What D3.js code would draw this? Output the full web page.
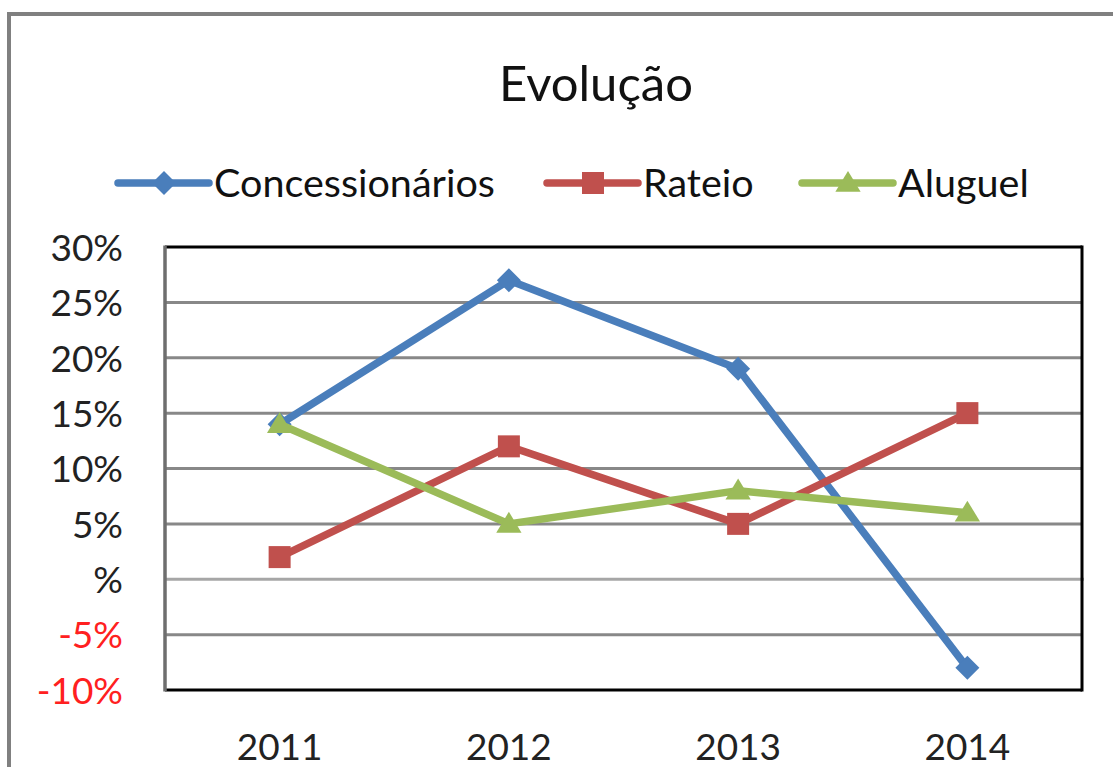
<!DOCTYPE html>
<html><head><meta charset="utf-8">
<script src="https://cdn.jsdelivr.net/npm/d3@7"></script>
<style>body{margin:0;background:#fff}svg{display:block}</style>
</head><body>
<svg id="c" width="1113" height="767"></svg>
<script>
const categories = ["2011","2012","2013","2014"];
const seriesNames = ["Concessionários","Rateio","Aluguel"];
const concessionarios = [14, 27, 19, -8];
const rateio = [2, 12, 5, 15];
const aluguel = [14, 5, 8, 6];
const yTicks = [-10,-5,0,5,10,15,20,25,30];
const colors = ["#4a7ebb","#c0504d","#9bbb59"];
const markers = ["diamond","square","triangle"];
const seriesValues = [concessionarios, rateio, aluguel];

const svg = d3.select("#c");
const font = "Lato, 'Open Sans', sans-serif";
const L = 165, R = 1082, T = 247, B = 690;

// outer frame
svg.append("rect").attr("x",9).attr("y",14).attr("width",1200).attr("height",900)
  .attr("fill","none").attr("stroke","#808080").attr("stroke-width",4);

const x = d3.scaleBand().domain(categories).range([L,R]);
const y = d3.scaleLinear().domain([-10,30]).range([B,T]);

// gridlines
svg.append("g").selectAll("line").data(yTicks.filter(d=>d>-10&&d<30)).join("line")
  .attr("x1",L).attr("x2",d=>d===0?R+2:R).attr("y1",d=>y(d)).attr("y2",d=>y(d))
  .attr("stroke",d=>d===0?"#a6a6a6":"#888").attr("stroke-width",3);

// plot border
svg.append("line").attr("x1",L).attr("x2",R).attr("y1",T).attr("y2",T).attr("stroke","#000").attr("stroke-width",3);
svg.append("line").attr("x1",R).attr("x2",R).attr("y1",T-1.5).attr("y2",B+1.5).attr("stroke","#000").attr("stroke-width",3);
svg.append("line").attr("x1",L).attr("x2",R).attr("y1",B).attr("y2",B).attr("stroke","#000").attr("stroke-width",3);
svg.append("line").attr("x1",L).attr("x2",L).attr("y1",T-1.5).attr("y2",B+1.5).attr("stroke","#6e6e6e").attr("stroke-width",3.5);

// y axis labels
const yAxis = d3.axisLeft(y).tickValues(yTicks).tickSize(0).tickPadding(0)
  .tickFormat(d => d===0 ? "%" : d+"%");
const gy = svg.append("g").attr("transform",`translate(123,0)`).call(yAxis);
gy.select(".domain").remove();
gy.selectAll("text").attr("font-family",font).attr("font-size",37)
  .attr("fill",d=>d<0?"#ff2020":"#222").attr("dy","0.36em");

// x axis labels
const xAxis = d3.axisBottom(x).tickSize(0).tickPadding(0);
const gx = svg.append("g").attr("transform",`translate(0,${B})`).call(xAxis);
gx.select(".domain").remove();
gx.selectAll("text").attr("font-family",font).attr("font-size",37).attr("fill","#222")
  .attr("dy",0).attr("y",70);

function marker(g, type, color, cx, cy, s){
  if(type==="diamond"){
    g.append("path").attr("d",`M${cx},${cy-s}L${cx+s},${cy}L${cx},${cy+s}L${cx-s},${cy}Z`).attr("fill",color);
  } else if(type==="square"){
    g.append("rect").attr("x",cx-s).attr("y",cy-s).attr("width",2*s).attr("height",2*s).attr("fill",color);
  } else {
    g.append("path").attr("d",`M${cx},${cy-s*1.1}L${cx+s*1.15},${cy+s*0.8}L${cx-s*1.15},${cy+s*0.8}Z`).attr("fill",color);
  }
}

const line = d3.line().x((d,i)=>x(categories[i])+x.bandwidth()/2).y(d=>y(d));
seriesValues.forEach((vals,si)=>{
  const g = svg.append("g");
  g.append("path").attr("d",line(vals)).attr("fill","none").attr("stroke",colors[si])
    .attr("stroke-width",7.5).attr("stroke-linejoin","round").attr("stroke-linecap","round");
  vals.forEach((v,i)=>marker(g,markers[si],colors[si],x(categories[i])+x.bandwidth()/2,y(v),markers[si]==="diamond"?12:11));
});

// title
svg.append("text").attr("x",596).attr("y",101).attr("text-anchor","middle")
  .attr("font-family",font).attr("font-size",49).attr("fill","#111").text("Evolução");

// legend
const legendX = [118, 547, 802];
const legY = 183;
seriesNames.forEach((n,i)=>{
  const g = svg.append("g");
  g.append("line").attr("x1",legendX[i]).attr("x2",legendX[i]+91).attr("y1",legY).attr("y2",legY)
    .attr("stroke",colors[i]).attr("stroke-width",7.5).attr("stroke-linecap","round");
  marker(g,markers[i],colors[i],legendX[i]+46,legY,markers[i]==="diamond"?12:11);
  g.append("text").attr("x",legendX[i]+96).attr("y",legY).attr("dy","0.36em")
    .attr("font-family",font).attr("font-size",39.5).attr("fill","#111").text(n);
});
</script>
</body></html>
